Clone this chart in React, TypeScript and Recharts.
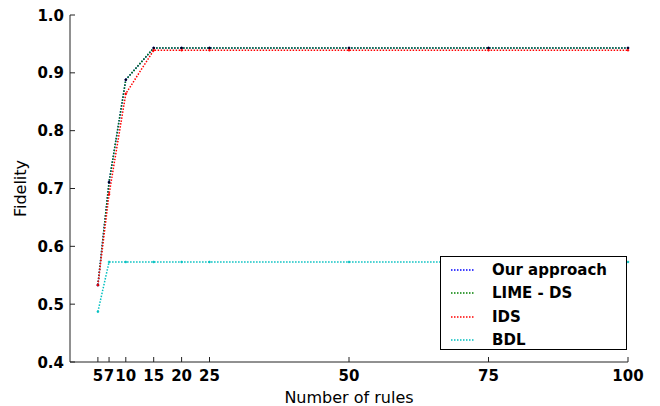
import React from "react";
import { LineChart, Line, XAxis, YAxis } from "recharts";

const rules = [5, 7, 10, 15, 20, 25, 50, 75, 100];
const ourApproach = [0.533, 0.711, 0.888, 0.943, 0.943, 0.943, 0.943, 0.943, 0.943];
const limeDs = [0.533, 0.711, 0.888, 0.943, 0.943, 0.943, 0.943, 0.943, 0.943];
const ids = [0.533, 0.69, 0.864, 0.939, 0.939, 0.939, 0.939, 0.939, 0.939];
const bdl = [0.487, 0.573, 0.573, 0.573, 0.573, 0.573, 0.573, 0.573, 0.573];
const yTicks = [0.4, 0.5, 0.6, 0.7, 0.8, 0.9, 1.0];

const SERIES = [
  { key: "ours", name: "Our approach", color: "#0000ff", dot: "#0000ff" },
  { key: "lime", name: "LIME - DS", color: "#008000", dot: "#000000" },
  { key: "ids", name: "IDS", color: "#ff0000", dot: "#ff0000" },
  { key: "bdl", name: "BDL", color: "#00bfbf", dot: "#00bfbf" },
];

const data = rules.map((r, i) => ({
  x: r,
  ours: ourApproach[i],
  lime: limeDs[i],
  ids: ids[i],
  bdl: bdl[i],
}));

const FONT = "'DejaVu Sans', sans-serif";
const AXIS = "#222";

function BottomTick({ x, y, payload }: any) {
  return (
    <g>
      <line x1={x} x2={x} y1={y} y2={y - 5} stroke={AXIS} />
      <text x={x} y={y + 19} textAnchor="middle" fontFamily={FONT} fontWeight="bold" fontSize={15} fill="#000">
        {payload.value}
      </text>
    </g>
  );
}

function TopTick({ x, y }: any) {
  return <line x1={x} x2={x} y1={y} y2={y + 5} stroke={AXIS} />;
}

function LeftTick({ x, y, payload }: any) {
  return (
    <g>
      <line x1={x} x2={x + 5} y1={y} y2={y} stroke={AXIS} />
      <text x={x - 6} y={y + 5.5} textAnchor="end" fontFamily={FONT} fontWeight="bold" fontSize={15} fill="#000">
        {payload.value.toFixed(1)}
      </text>
    </g>
  );
}

function RightTick({ x, y }: any) {
  return <line x1={x} x2={x - 5} y1={y} y2={y} stroke={AXIS} />;
}

function LegendBox() {
  return (
    <div
      style={{
        position: "absolute",
        left: 440,
        top: 256,
        border: "1px solid #000",
        background: "#fff",
        width: 187,
        height: 94,
        boxSizing: "border-box",
        paddingTop: 1,
        fontFamily: FONT,
      }}
    >
      {SERIES.map((s) => (
        <div key={s.key} style={{ display: "flex", alignItems: "center", height: 23.5 }}>
          <svg width={51} height={10} style={{ flex: "none" }}>
            <line x1={10} x2={33} y1={5} y2={5} stroke={s.color} strokeWidth={1.5} strokeDasharray="1.5 1.5" />
          </svg>
          <span style={{ fontWeight: "bold", fontSize: 15, color: "#000" }}>{s.name}</span>
        </div>
      ))}
    </div>
  );
}

export default function App() {
  return (
    <div style={{ position: "absolute", left: 0, top: 0, width: 660, height: 406, background: "#fff" }}>
      <LineChart width={660} height={406} data={data} margin={{ top: 15, right: 32, bottom: 0, left: 0 }}>
        <XAxis
          dataKey="x"
          type="number"
          domain={[0, 100]}
          ticks={rules}
          interval={0}
          height={44}
          tickSize={0}
          tickMargin={0}
          tickLine={false}
          tick={<BottomTick />}
          axisLine={{ stroke: AXIS }}
          label={{ value: "Number of rules", position: "insideBottom", offset: 3, fontFamily: FONT, fontSize: 16, fill: "#000" }}
        />
        <XAxis
          xAxisId="top"
          dataKey="x"
          type="number"
          orientation="top"
          domain={[0, 100]}
          ticks={rules}
          interval={0}
          height={0}
          tickSize={0}
          tickMargin={0}
          tickLine={false}
          tick={<TopTick />}
          axisLine={{ stroke: AXIS }}
        />
        <YAxis
          type="number"
          domain={[0.4, 1.0]}
          ticks={yTicks}
          interval={0}
          width={70}
          tickSize={0}
          tickMargin={0}
          tickLine={false}
          tick={<LeftTick />}
          axisLine={{ stroke: AXIS }}
          label={{ value: "Fidelity", angle: -90, position: "insideLeft", offset: 20, fontFamily: FONT, fontSize: 16, fill: "#000", style: { textAnchor: "middle" } }}
        />
        <YAxis
          yAxisId="right"
          orientation="right"
          type="number"
          domain={[0.4, 1.0]}
          ticks={yTicks}
          interval={0}
          width={0}
          tickSize={0}
          tickMargin={0}
          tickLine={false}
          tick={<RightTick />}
          axisLine={{ stroke: AXIS }}
        />
        {SERIES.map((s) => (
          <Line
            key={s.key}
            dataKey={s.key}
            name={s.name}
            type="linear"
            stroke={s.color}
            strokeWidth={1.5}
            strokeDasharray="1.5 1.5"
            dot={{ r: 1, fill: s.dot, stroke: s.dot, strokeWidth: 0.5, strokeDasharray: "0" }}
            isAnimationActive={false}
          />
        ))}
      </LineChart>
      <LegendBox />
    </div>
  );
}
